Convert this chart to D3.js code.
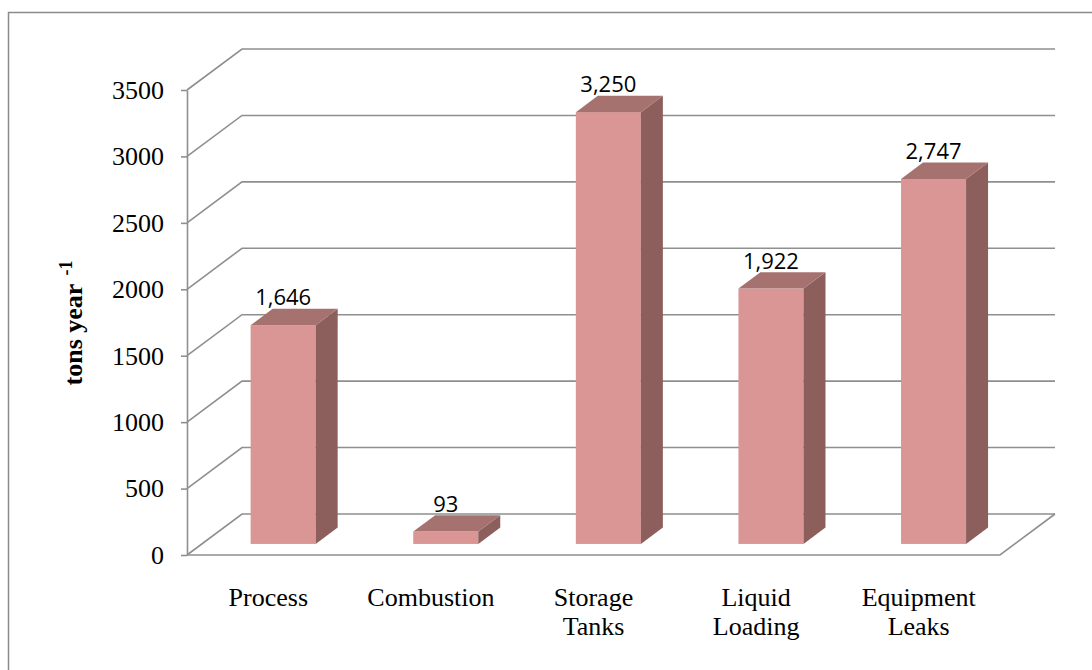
<!DOCTYPE html>
<html>
<head>
<meta charset="utf-8">
<script src="https://cdn.jsdelivr.net/npm/d3@7"></script>
<style>
  body { margin: 0; background: #fff; }
  svg { display: block; }
  .serif { font-family: "Liberation Serif", "Times New Roman", serif; }
</style>
</head>
<body>
<script>
const categories = [["Process"], ["Combustion"], ["Storage", "Tanks"], ["Liquid", "Loading"], ["Equipment", "Leaks"]];
const values = [1646, 93, 3250, 1922, 2747];
const tickValues = [0, 500, 1000, 1500, 2000, 2500, 3000, 3500];

const width = 1092;
const height = 670;

// front plot box and 3D depth offset
const plotLeft = 187, plotRight = 1000, plotTop = 90, plotBottom = 555;
const DX = 55, DY = 41;
const t0 = 0.27, t1 = 0.67; // bar depth range (fraction of full depth)

const gridColor = "#8f8f8f";
const frontFill = "#d99694";
const sideFill = "#8c5f5d";
const topFill = "#a67270";
const serif = "'Liberation Serif', 'Times New Roman', serif";

const svg = d3.select("body")
  .append("svg")
  .attr("width", width)
  .attr("height", height);

// outer border
svg.append("rect")
  .attr("x", 8.5).attr("y", 12.5)
  .attr("width", 1200).attr("height", 800)
  .attr("fill", "none")
  .attr("stroke", "#8a8a8a")
  .attr("stroke-width", 1.5);

const x = d3.scaleBand()
  .domain(categories.map(d => d.join(" ")))
  .range([plotLeft, plotRight])
  .padding(0);

const y = d3.scaleLinear().domain([0, 3500]).range([plotBottom, plotTop]);

const g = svg.append("g");

// back wall gridlines + side wall diagonals
g.selectAll(".grid")
  .data(tickValues)
  .enter().append("polyline")
  .attr("class", "grid")
  .attr("points", d => `${plotLeft},${y(d)} ${plotLeft + DX},${y(d) - DY} ${plotRight + DX},${y(d) - DY}`)
  .attr("fill", "none")
  .attr("stroke", gridColor)
  .attr("stroke-width", 1.6);

// floor front and right edges
g.append("polyline")
  .attr("points", `${plotLeft},${plotBottom} ${plotRight},${plotBottom} ${plotRight + DX},${plotBottom - DY}`)
  .attr("fill", "none")
  .attr("stroke", gridColor)
  .attr("stroke-width", 1.6);

// front y axis
const yAxis = g.append("g")
  .attr("transform", `translate(${plotLeft},0)`)
  .call(d3.axisLeft(y).tickValues(tickValues).tickFormat(d3.format("d"))
    .tickSize(6).tickSizeOuter(0).tickPadding(17));
yAxis.attr("font-family", serif).attr("font-size", 26);
yAxis.selectAll("path, line").attr("stroke", gridColor).attr("stroke-width", 1.6);
yAxis.selectAll("text")
  .attr("class", "serif")
  .attr("font-size", 26)
  .attr("fill", "#000");

// bars
const bw = x.bandwidth() * 0.4;
const bars = g.selectAll(".bar")
  .data(values)
  .enter().append("g")
  .attr("class", "bar");

const fx0 = (d, i) => x(x.domain()[i]) + x.bandwidth() * 0.3 + t0 * DX;
const fyb = plotBottom - t0 * DY;
const ddx = (t1 - t0) * DX, ddy = (t1 - t0) * DY;
const fyt = d => y(d) - t0 * DY;

bars.append("rect")
  .attr("x", fx0)
  .attr("y", fyt)
  .attr("width", bw)
  .attr("height", d => fyb - fyt(d))
  .attr("fill", frontFill);

bars.append("polygon")
  .attr("points", (d, i) => {
    const x1 = fx0(d, i) + bw, yt = fyt(d);
    return `${x1},${yt} ${x1 + ddx},${yt - ddy} ${x1 + ddx},${fyb - ddy} ${x1},${fyb}`;
  })
  .attr("fill", sideFill);

bars.append("polygon")
  .attr("points", (d, i) => {
    const x0 = fx0(d, i), yt = fyt(d);
    return `${x0},${yt} ${x0 + bw},${yt} ${x0 + bw + ddx},${yt - ddy} ${x0 + ddx},${yt - ddy}`;
  })
  .attr("fill", topFill);

// data labels
bars.append("text")
  .attr("x", (d, i) => fx0(d, i) + bw / 2)
  .attr("y", d => fyt(d) - 20)
  .attr("text-anchor", "middle")
  .attr("font-family", "'Open Sans', sans-serif")
  .attr("font-size", 22)
  .attr("fill", "#000")
  .text(d => d3.format(",")(d));

// category labels
const cat = g.selectAll(".cat")
  .data(categories)
  .enter().append("text")
  .attr("class", "cat serif")
  .attr("x", d => x(d.join(" ")) + x.bandwidth() / 2)
  .attr("y", 606)
  .attr("text-anchor", "middle")
  .attr("font-size", 26)
  .attr("fill", "#000");

cat.selectAll("tspan")
  .data(d => d)
  .enter().append("tspan")
  .attr("x", function () { return d3.select(this.parentNode).attr("x"); })
  .attr("dy", (d, i) => i === 0 ? 0 : 29)
  .text(d => d);

// y axis title
const title = svg.append("text")
  .attr("class", "serif")
  .attr("transform", "translate(82,323) rotate(-90)")
  .attr("text-anchor", "middle")
  .attr("font-weight", "bold")
  .attr("font-size", 26)
  .attr("fill", "#000");
title.append("tspan").text("tons year");
title.append("tspan")
  .attr("dx", 8)
  .attr("dy", -10)
  .attr("font-size", 18)
  .text("-1");
</script>
</body>
</html>
